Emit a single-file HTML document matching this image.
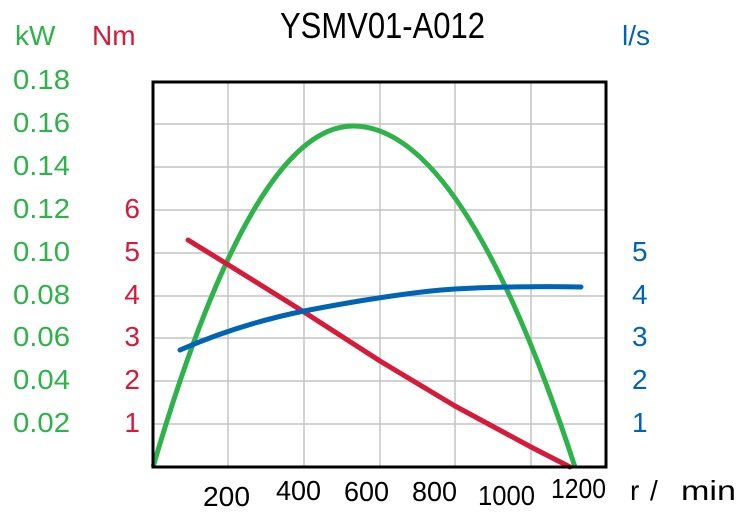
<!DOCTYPE html>
<html><head><meta charset="utf-8"><style>
html,body{margin:0;padding:0;background:#fff;}
svg{display:block;font-family:"Liberation Sans","DejaVu Sans",sans-serif;}
</style></head><body>
<svg width="741" height="513" viewBox="0 0 741 513" xmlns="http://www.w3.org/2000/svg">
<g stroke="#c4c4c4" stroke-width="1.5">
<line x1="228" y1="82" x2="228" y2="467"/><line x1="304" y1="82" x2="304" y2="467"/>
<line x1="380" y1="82" x2="380" y2="467"/><line x1="455" y1="82" x2="455" y2="467"/>
<line x1="531" y1="82" x2="531" y2="467"/>
<line x1="152" y1="124" x2="607" y2="124"/><line x1="152" y1="167" x2="607" y2="167"/>
<line x1="152" y1="210" x2="607" y2="210"/><line x1="152" y1="253" x2="607" y2="253"/>
<line x1="152" y1="296" x2="607" y2="296"/><line x1="152" y1="338" x2="607" y2="338"/>
<line x1="152" y1="381" x2="607" y2="381"/><line x1="152" y1="424" x2="607" y2="424"/>
</g>
<path d="M153,467 Q253,126 353,126 Q464,126 575,467" fill="none" stroke="#2db34a" stroke-width="5"/>
<path d="M188,240 L227,264 L304,312 L380,361 L455,406 L531,447 L570,467" fill="none" stroke="#d7193a" stroke-width="5" stroke-linecap="round" stroke-linejoin="round"/>
<path d="M180,350 C210,337 250,322 304,311 C360,300 420,291 455,289 C490,287 540,286 581,287" fill="none" stroke="#0064b4" stroke-width="5" stroke-linecap="round"/>
<rect x="153" y="82" width="453" height="385" fill="none" stroke="#000" stroke-width="3"/>
<text x="280" y="38" font-size="36" textLength="205" lengthAdjust="spacingAndGlyphs" fill="#000">YSMV01-A012</text>
<g font-size="28" fill="#2db34a">
<text x="15" y="45">kW</text>
<text x="13" y="89" textLength="57" lengthAdjust="spacingAndGlyphs">0.18</text><text x="13" y="132" textLength="57" lengthAdjust="spacingAndGlyphs">0.16</text><text x="13" y="175" textLength="57" lengthAdjust="spacingAndGlyphs">0.14</text>
<text x="13" y="218" textLength="57" lengthAdjust="spacingAndGlyphs">0.12</text><text x="13" y="261" textLength="57" lengthAdjust="spacingAndGlyphs">0.10</text><text x="13" y="304" textLength="57" lengthAdjust="spacingAndGlyphs">0.08</text>
<text x="13" y="346" textLength="57" lengthAdjust="spacingAndGlyphs">0.06</text><text x="13" y="389" textLength="57" lengthAdjust="spacingAndGlyphs">0.04</text><text x="13" y="432" textLength="57" lengthAdjust="spacingAndGlyphs">0.02</text>
</g>
<g font-size="28" fill="#d7193a">
<text x="92" y="45">Nm</text>
<g text-anchor="end">
<text x="140" y="218">6</text><text x="140" y="261">5</text><text x="140" y="304">4</text>
<text x="140" y="346">3</text><text x="140" y="389">2</text><text x="140" y="432">1</text>
</g></g>
<g font-size="28" fill="#0064b4">
<text x="622" y="45">l/s</text>
<text x="632" y="261">5</text><text x="632" y="304">4</text><text x="632" y="346">3</text>
<text x="632" y="389">2</text><text x="632" y="432">1</text>
</g>
<g font-size="28" fill="#000">
<text x="203" y="506" textLength="47" lengthAdjust="spacingAndGlyphs">200</text>
<text x="276" y="500" textLength="45" lengthAdjust="spacingAndGlyphs">400</text>
<text x="344" y="501" textLength="45" lengthAdjust="spacingAndGlyphs">600</text>
<text x="412" y="501" textLength="45" lengthAdjust="spacingAndGlyphs">800</text>
<text x="478" y="505" textLength="57" lengthAdjust="spacingAndGlyphs">1000</text>
<text x="551" y="498" textLength="55" lengthAdjust="spacingAndGlyphs">1200</text>
<text x="630" y="500">r</text>
<text x="650" y="500">/</text>
<text x="681" y="500" textLength="55" lengthAdjust="spacingAndGlyphs">min</text>
</g>
</svg>
</body></html>
